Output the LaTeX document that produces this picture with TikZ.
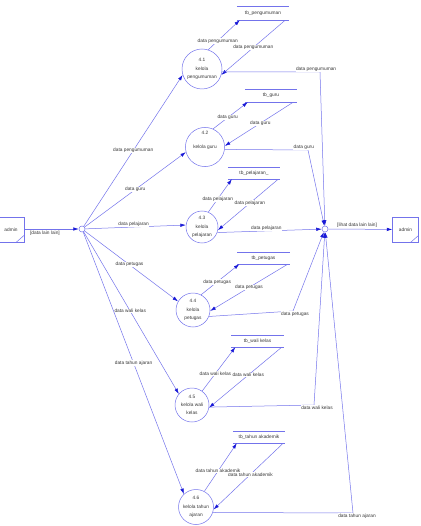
\documentclass[tikz,border=0pt]{standalone}
\usepackage{fontspec}
\setmainfont{Liberation Sans}
\usetikzlibrary{arrows.meta}
\definecolor{linec}{RGB}{115,115,235}
\definecolor{tipc}{RGB}{25,25,215}
\definecolor{textc}{RGB}{55,55,55}
\newcommand\dfdfont{\fontsize{4.8}{8.3}\selectfont}

\begin{document}
\begin{tikzpicture}[x=1pt, y=-1pt,
        proc/.style={circle, draw=linec, line width=0.5pt, minimum size=34pt,
                     inner sep=0pt, align=center, font=\dfdfont, text=textc},
        store/.style={minimum width=52pt, minimum height=12pt, inner sep=0pt,
                      font=\dfdfont, text=textc},
        ent/.style={rectangle, draw=linec, line width=0.5pt, minimum width=26pt,
                    minimum height=25pt, font=\dfdfont, text=textc},
        junc/.style={circle, draw=linec, fill=white, line width=0.5pt,
                     minimum size=6pt, inner sep=0pt},
        flow/.style={draw=linec, line width=0.5pt,
                     -{Latex[length=5.5pt, width=3.5pt, color=tipc]}},
        thin/.style={draw=linec, line width=0.5pt},
        lbl/.style={font=\dfdfont, text=textc, fill=white, inner sep=0.4pt}]
        \useasboundingbox (0,0) rectangle (420,526);
        \node[ent] (e1) at (11,229.5) {admin};
        \node[ent] (e2) at (405.5,229.5) {admin};
        \draw[thin] ([xshift=-8pt]e1.south east) -- ([yshift=7pt]e1.south east);
        \draw[thin] ([xshift=-8pt]e2.south east) -- ([yshift=7pt]e2.south east);
        \node[junc] (j1) at (82,229) {};
        \node[junc] (j2) at (325,229) {};
        \node[proc, minimum size=40pt] (p1) at (202,69) {4.1\\kelola\\pengumuman};
        \node[proc] (p2) at (205,147) {4.2\\[5.7pt]kelola guru\\[5.7pt]~};
        \node[proc, minimum size=32pt] (p3) at (202,227) {4.3\\kelola\\pelajaran};
        \node[proc] (p4) at (193,310) {4.4\\kelola\\petugas};
        \node[proc] (p5) at (192,405) {4.5\\kelola wali\\kelas};
        \node[proc, minimum size=35pt] (p6) at (196,507) {4.6\\kelola tahun\\ajaran};
        \node[store, minimum height=14pt] (s1) at (263,13) {tb\_pengumuman};
        \node[store, minimum height=13pt] (s2) at (271,95.5) {tb\_guru};
        \node[store] (s3) at (254,173) {tb\_pelajaran\_};
        \node[store] (s4) at (263.5,258) {tb\_petugas};
        \node[store] (s5) at (257.5,341) {tb\_wali kelas};
        \node[store] (s6) at (259,437) {tb\_tahun akademik};
        \foreach \s in {s1,s2,s3,s4,s5,s6}
            \draw[thin] (\s.north west) -- (\s.north east) (\s.south west) -- (\s.south east);
        \draw[flow] (e1.east |- j1) -- node[lbl, below, pos=0.38, yshift=-1.5pt] {[data lain lain]} (j1);
        \draw[flow] (j1) -- node[lbl, pos=0.5] {data pengumuman} (p1.197);
        \draw[flow] (j1) -- node[lbl, pos=0.5] {data guru} (p2.195);
        \draw[flow] (j1) -- node[lbl, above, pos=0.48] {data pelajaran} (p3.173);
        \draw[flow] (j1) -- node[lbl, pos=0.48] {data petugas} (p4.150);
        \draw[flow] (j1) -- node[lbl, pos=0.49] {data wali kelas} (p5.140);
        \draw[flow] (j1) -- node[lbl, pos=0.5] {data tahun ajaran} (p6.133);
        \draw[flow] (p1.72) -- node[lbl, pos=0.3] {data pengumuman} ([xshift=3pt]s1.south west);
        \draw[flow] ([xshift=-4pt]s1.south east) -- node[lbl, pos=0.5] {data pengumuman} (p1.-17);
        \draw[flow] (p2.66) -- node[lbl, pos=0.42] {data guru} ([xshift=3pt]s2.south west);
        \draw[flow] ([xshift=-4pt]s2.south east) -- node[lbl, pos=0.48] {data guru} (p2.3);
        \draw[flow] (p3.67) -- node[lbl, pos=0.4] {data pelajaran} ([xshift=4pt]s3.south west);
        \draw[flow] ([xshift=-2pt]s3.south east) -- node[lbl, pos=0.47] {data pelajaran} (p3.-11);
        \draw[flow] (p4.62) -- node[lbl, pos=0.42] {data petugas} ([xshift=2pt]s4.south west);
        \draw[flow] ([xshift=-2pt]s4.south east) -- node[lbl, pos=0.5] {data petugas} (p4.-3);
        \draw[flow] (p5.54) -- node[lbl, pos=0.4] {data wali kelas} ([xshift=4pt]s5.south west);
        \draw[flow] ([xshift=-2pt]s5.south east) -- node[lbl, pos=0.46] {data wali kelas} (p5.-9);
        \draw[flow] ([xshift=-2pt]s6.south east) -- node[lbl, pos=0.47] {data tahun akademik} (p6.-8);
        \draw[flow] (p6.62) -- node[lbl, pos=0.42] {data tahun akademik} ([xshift=4pt]s6.south west);
        \draw[flow] (p1.-8) -- node[lbl, above, pos=0.96] {data pengumuman} (320,72) -- (j2);
        \draw[flow] (p2.-7) -- node[lbl, above, pos=0.95] {data guru} (308,150) -- (j2);
        \draw[flow] (p3.-20) -- node[lbl, above, pos=0.47] {data pelajaran} (j2);
        \draw[flow] (p4.-22) -- (293,311) node[lbl, below, xshift=2pt] {data petugas} -- (j2);
        \draw[flow] (p5.-7) -- (314,405) node[lbl, below, xshift=3pt] {data wali kelas} -- (j2);
        \draw[flow] (p6.-18) -- (353,513) node[lbl, below, xshift=4pt] {data tahun ajaran} -- (j2);
        \draw[flow] (j2) -- node[lbl, above, pos=0.45, yshift=1pt] {[lihat data lain lain]} (e2);
    \end{tikzpicture}
\end{document}
